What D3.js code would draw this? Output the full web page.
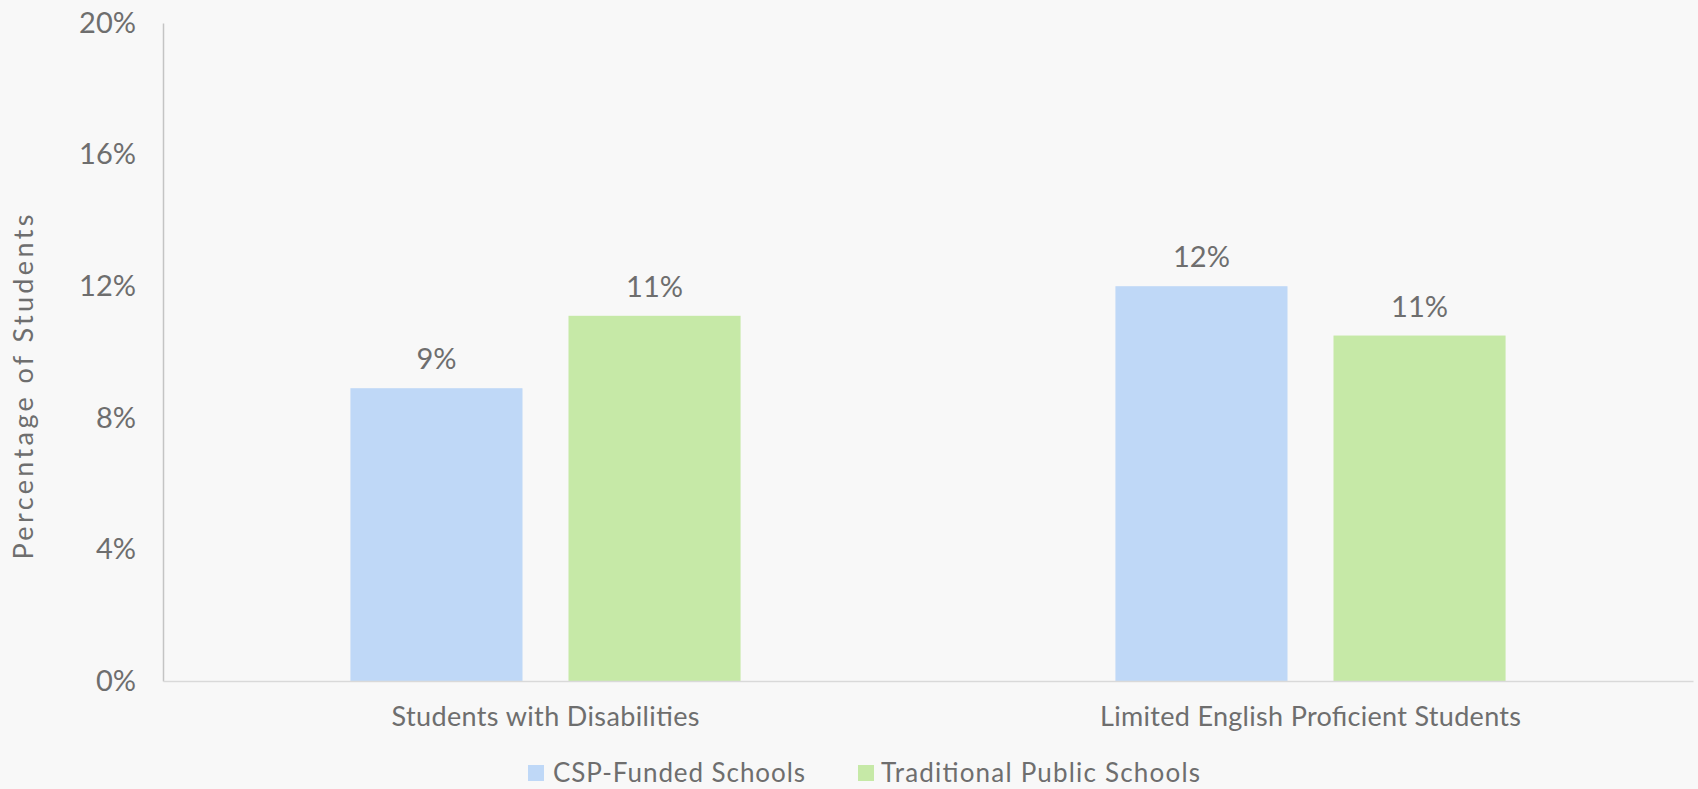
<!DOCTYPE html>
<html><head><meta charset="utf-8">
<script src="https://cdn.jsdelivr.net/npm/d3@7"></script>
<style>
html,body{margin:0;padding:0;background:#f8f8f8;}
svg{display:block;font-family:"Lato","Noto Sans",sans-serif;}
</style></head>
<body>
<svg id="chart" width="1698" height="789"></svg>
<script>
const categories = ["Students with Disabilities", "Limited English Proficient Students"];
const seriesNames = ["CSP-Funded Schools", "Traditional Public Schools"];
const cspValues = [8.9, 12.0];
const tpsValues = [11.1, 10.5];
const valueLabels = [["9%", "11%"], ["12%", "11%"]];
const yTicks = [0, 4, 8, 12, 16, 20];
const colors = ["#bfd8f7", "#c6e9a7"];

(function () {
const svg = d3.select("#chart");
const pLeft = 163, pRight = 1693, pTop = 23, pBottom = 681;
const textColor = "#6e6e6e";
const catWidths = [308, 421];
const legWidths = [252, 319];

const y = d3.scaleLinear().domain([0, 20]).range([pBottom, pTop]);
const x0 = d3.scaleBand().domain(categories).range([pLeft, pRight]).padding(0);
const bw = x0.bandwidth();
const x1 = d3.scaleBand().domain(seriesNames).range([bw*0.245, bw*0.755]).paddingInner(0.211).paddingOuter(0);

const data = categories.map((c, i) => ({cat: c, vals: [cspValues[i], tpsValues[i]], labels: valueLabels[i]}));
const g = svg.selectAll("g.cat").data(data).enter().append("g").attr("class", "cat")
  .attr("transform", d => `translate(${x0(d.cat)},0)`);
const items = d => d.vals.map((v, j) => ({v, s: seriesNames[j], j, lab: d.labels[j]}));
g.selectAll("rect").data(items).enter().append("rect")
  .attr("x", d => x1(d.s)).attr("width", x1.bandwidth())
  .attr("y", d => y(d.v)).attr("height", d => y(0) - y(d.v))
  .attr("fill", d => colors[d.j]);
g.selectAll("text.val").data(items).enter().append("text").attr("class", "val")
  .attr("x", d => x1(d.s) + x1.bandwidth()/2)
  .attr("y", d => y(d.v) - 19)
  .attr("text-anchor", "middle").attr("fill", textColor)
  .style("font-size", "29px").text(d => d.lab);

const yAxis = d3.axisLeft(y).tickValues(yTicks).tickFormat(d => d + "%").tickSize(0).tickPadding(27);
const ya = svg.append("g").attr("transform", `translate(${pLeft},0)`).call(yAxis);
ya.select(".domain").attr("stroke", "#c4c4c4").attr("stroke-width", 1.5);
ya.selectAll("text").attr("fill", textColor).style("font-size", "29px").attr("font-family", "Lato,'Noto Sans',sans-serif");

const xAxis = d3.axisBottom(x0).tickSize(0).tickPadding(26);
const xa = svg.append("g").attr("transform", `translate(0,${pBottom})`).call(xAxis);
xa.select(".domain").attr("stroke", "#d9d9d9").attr("stroke-width", 1.5);
xa.selectAll("text").attr("fill", textColor).style("font-size", "27px").attr("font-family", "Lato,'Noto Sans',sans-serif")
  .attr("textLength", (d, i) => catWidths[i]).attr("lengthAdjust", "spacing");

svg.append("text").attr("transform", `translate(33,387) rotate(-90)`)
  .attr("text-anchor", "middle").attr("fill", textColor).style("font-size", "27px")
  .attr("textLength", 345).attr("lengthAdjust", "spacing")
  .text("Percentage of Students");

const legend = svg.append("g");
const legX = [528, 858];
const legTextX = [553, 881];
seriesNames.forEach((s, i) => {
  legend.append("rect").attr("x", legX[i]).attr("y", 765).attr("width", 16).attr("height", 16).attr("fill", colors[i]);
  legend.append("text").attr("x", legTextX[i]).attr("y", 782).attr("fill", textColor)
    .style("font-size", "26px").attr("textLength", legWidths[i]).attr("lengthAdjust", "spacing").text(s);
});
})();
</script>
</body></html>
